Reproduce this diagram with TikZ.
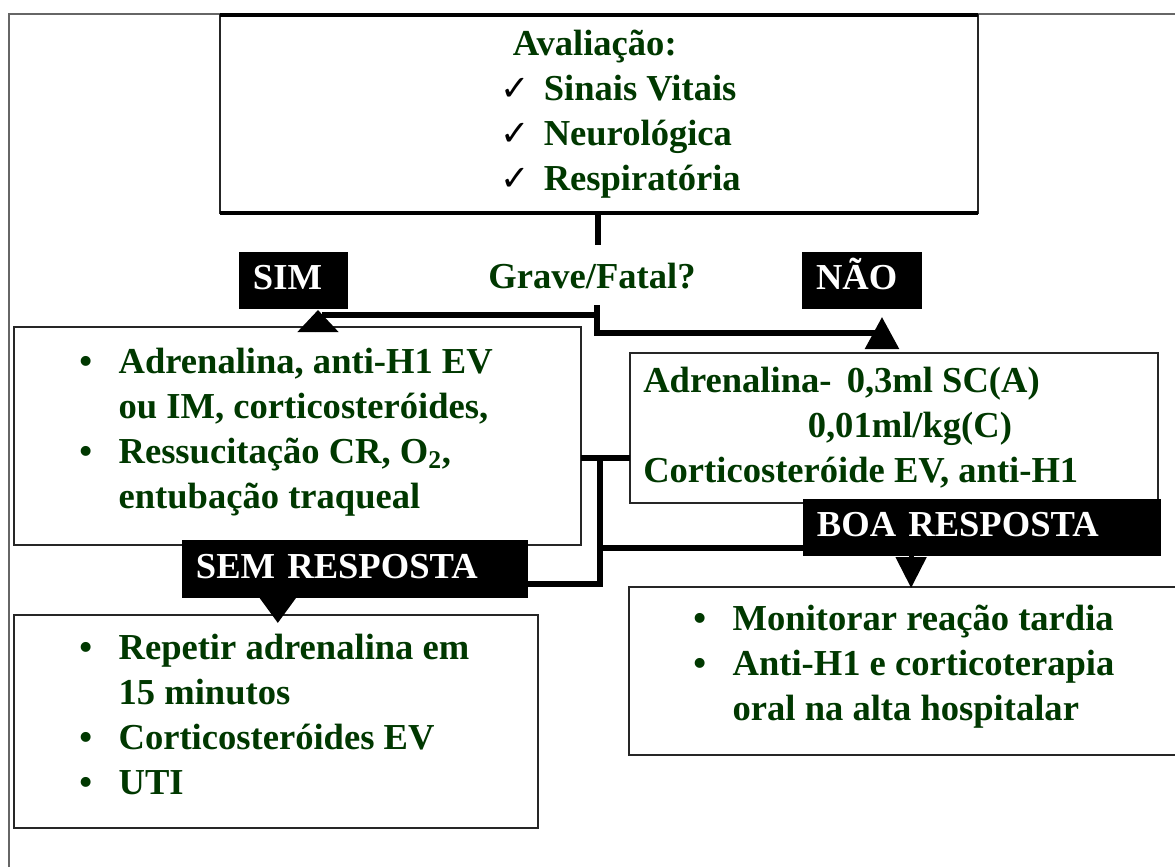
\documentclass[tikz,border=0pt]{standalone}
\usepackage{fontspec}
\setmainfont{Liberation Serif}
\newfontfamily\symfont{DejaVu Sans}
\usetikzlibrary{arrows.meta,calc}
\definecolor{darkgreen}{RGB}{0,56,0}
\newcommand\boxfont{\fontsize{26}{32}\selectfont\bfseries}
\newcommand\chk{\makebox[31pt][l]{\color{black}\symfont\fontsize{25}{25}\selectfont ✓}}
\newcommand\bul{\makebox[28pt][l]{\textbullet}}
\tikzset{
	box/.style={draw=black!85, line width=1.2pt, inner sep=0pt, outer sep=0pt},
	tag/.style={fill=black, text=white, inner xsep=0.35cm, inner ysep=0pt, align=left,
		text height=17pt, text depth=4pt, minimum height=1.425cm, font=\boxfont, outer sep=0pt},
	txt/.style={text=darkgreen, font=\boxfont, inner sep=0pt, anchor=west},
	conn/.style={line width=3.6pt, black},
}

\begin{document}
\begin{tikzpicture}[x=0.025cm, y=-0.025cm]
	%%%%% FRAME %%%%%
	\clip (0,0) rectangle (1175,867);
	\fill[white] (0,0) rectangle (1175,867);
	\draw[black!60, line width=1.2pt] (9,867) -- (9,14) -- (1175,14);
	
	%%%%% BOXES %%%%%
	\node[box, minimum width=18.95cm, minimum height=4.95cm] (aval) at (599,114) {};
	\draw[line width=2.6pt] (aval.north west) -- (aval.north east);
	\draw[line width=2.6pt] (aval.south west) -- (aval.south east);
	\node[txt] (avaltxt) at ($(aval.west)+(280,0)$) {\begin{tabular}{@{}l@{}l@{}}
		\multicolumn{2}{@{}l@{}}{\hspace{9pt}Avaliação:}\\
		\chk & Sinais Vitais\\
		\chk & Neurológica\\
		\chk & Respiratória
	\end{tabular}};
	
	\node[txt, anchor=center] (grave) at (592,276) {Grave/Fatal?};
	
	\node[tag, text width=2.025cm] (sim) at (293.5,280.5) {SIM};
	\node[tag, text width=2.3cm] (nao) at (862,280.5) {NÃO};
	
	\node[box, minimum width=14.175cm, minimum height=5.45cm] (adr) at (297.5,436) {};
	\node[txt] (adrtxt) at (79,432) {\begin{tabular}{@{}l@{}l@{}}
		\bul & Adrenalina, anti-H1 EV\\
		& ou IM, corticosteróides,\\
		\bul & Ressucitação CR, O\textsubscript{2},\\
		& entubação traqueal
	\end{tabular}};
	
	\node[box, minimum width=13.2cm, minimum height=3.75cm] (sc) at (894,428) {};
	\node[txt] (sctxt) at (643,428) {\begin{tabular}{@{}l@{}}
		Adrenalina-\, 0,3ml SC(A)\\
		\hspace*{117pt}0,01ml/kg(C)\\
		Corticosteróide EV, anti-H1
	\end{tabular}};
	
	\node[tag, text width=8.25cm] (boa) at (982,527.5) {BOA RESPOSTA};
	\node[tag, text width=7.95cm, minimum height=1.45cm] (sem) at (355,569) {SEM RESPOSTA};
	
	\node[box, minimum width=13.1cm, minimum height=5.325cm] (rep) at (276,721.5) {};
	\node[txt] (reptxt) at (79,718) {\begin{tabular}{@{}l@{}l@{}}
		\bul & Repetir adrenalina em\\
		& 15 minutos\\
		\bul & Corticosteróides EV\\
		\bul & UTI
	\end{tabular}};
	
	\node[box, minimum width=14cm, minimum height=4.2cm] (mon) at (909,671) {};
	\node[txt] (montxt) at (693,666) {\begin{tabular}{@{}l@{}l@{}}
		\bul & Monitorar reação tardia\\
		\bul & Anti-H1 e corticoterapia\\
		& oral na alta hospitalar
	\end{tabular}};
	
	%%%%% CONNECTORS %%%%%
	\coordinate (stub) at (598,245);
	\coordinate (fork) at (597,305);
	\coordinate (forkl) at (597,315);
	\coordinate (forkr) at (597,333);
	\coordinate (simend) at (322,315);
	\coordinate (naoend) at (886,333);
	\coordinate (simtip) at ($(sim.south west)+(79,1)$);
	\coordinate (naotip) at ($(nao.south west)+(80,8)$);
	
	\draw[conn] (aval.south -| stub) -- (stub);
	\draw[conn] (fork) -- (forkr) -- (naoend);
	\draw[conn] (forkl) -- (simend);
	\draw[conn, -{Triangle[width=1cm, length=0.55cm]}] ($(simtip)+(0,22)$) -- (simtip);
	\draw[conn, -{Triangle[width=0.83cm, length=0.8cm]}] ($(naotip)+(0,32)$) -- (naotip);
	
	\coordinate (ab) at (600,458);
	\coordinate (boaj) at (600,548);
	\coordinate (semj) at (600,584);
	\draw[conn] (adr.east |- ab) -- (sc.west |- ab);
	\draw[conn] (sem.east |- semj) -- (semj) -- (ab);
	\draw[conn] (boaj) -- (boa.west |- boaj);
	
	\draw[conn, -{Triangle[width=0.75cm, length=0.775cm]}] ($(boa.south west)!0.302!(boa.south east)$) -- ++(0,32);
	\draw[conn, -{Triangle[width=0.875cm, length=0.625cm]}] ($(sem.south west)!0.277!(sem.south east)$) -- ++(0,25);
\end{tikzpicture}
\end{document}
